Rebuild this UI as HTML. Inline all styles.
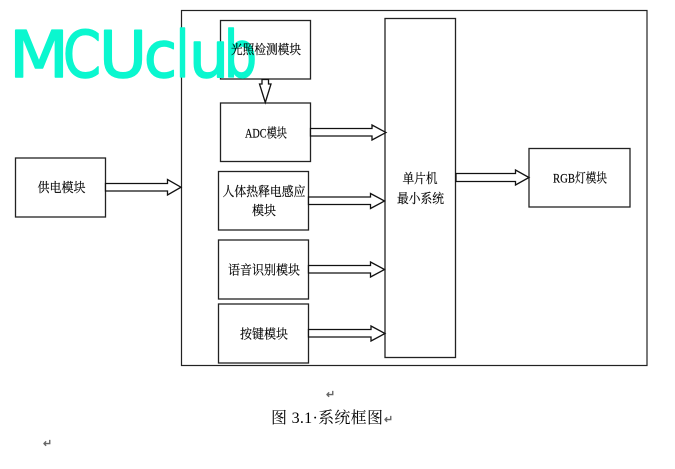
<!DOCTYPE html>
<html lang="zh">
<head>
<meta charset="utf-8">
<title>图 3.1 系统框图</title>
<style>
html,body{margin:0;padding:0;background:#fff;width:675px;height:469px;overflow:hidden}
svg{display:block}
text{font-family:"Liberation Serif","Noto Serif CJK SC",serif;fill:#000}
.b{fill:#fff;stroke:#222;stroke-width:1.3}
.a{fill:#fff;stroke:#111;stroke-width:1.3;stroke-linejoin:miter}
.t{font-size:13px;text-anchor:middle;stroke:#000;stroke-width:.15}
.r{font-size:11px;fill:#666;font-weight:bold}
.w{font-family:"DejaVu Sans",sans-serif;font-size:64px;fill:#0af7cf;stroke:#0af7cf;stroke-width:1.6;stroke-linejoin:round}
</style>
</head>
<body>
<svg width="675" height="469" viewBox="0 0 675 469" xmlns="http://www.w3.org/2000/svg">
<rect x="181.5" y="10.5" width="465.5" height="355" fill="#fff" stroke="#222" stroke-width="1.2"/>
<rect class="b" x="220.5" y="20.5" width="90" height="58.5"/>
<rect class="b" x="220.5" y="103" width="90" height="58.5"/>
<rect class="b" x="218.5" y="171.5" width="90" height="58.5"/>
<rect class="b" x="218.5" y="240" width="90" height="59"/>
<rect class="b" x="218.5" y="304" width="90" height="59"/>
<rect class="b" x="385" y="18.5" width="70.5" height="339"/>
<rect class="b" x="529" y="148.5" width="101" height="58.5"/>
<rect class="b" x="15.5" y="158" width="90" height="59"/>
<polygon class="a" points="105.5,183.5 167.5,183.5 167.5,179.5 181,187.2 167.5,195 167.5,191 105.5,191"/>
<polygon class="a" points="310.5,128.5 372,128.5 372,125 386,132.5 372,140 372,136 310.5,136"/>
<polygon class="a" points="308.5,197 370.5,197 370.5,193.5 384.5,201 370.5,208.5 370.5,204.5 308.5,204.5"/>
<polygon class="a" points="308.5,265.5 370.5,265.5 370.5,262 384.5,269.5 370.5,277 370.5,273 308.5,273"/>
<polygon class="a" points="308.5,329.5 371,329.5 371,326 385,333.5 371,341 371,337 308.5,337"/>
<polygon class="a" points="456,173.5 515.5,173.5 515.5,170 529,177.5 515.5,185 515.5,181.5 456,181.5"/>
<polygon class="a" points="262,79.5 268.5,79.5 268.5,84 271,84 265.3,102.5 259.5,84 262,84"/>
<text class="t" x="266" y="137.5" textLength="42" lengthAdjust="spacingAndGlyphs">ADC模块</text>
<text class="t" x="264" y="196" textLength="83" lengthAdjust="spacingAndGlyphs">人体热释电感应</text>
<text class="t" x="264" y="215" textLength="24" lengthAdjust="spacingAndGlyphs">模块</text>
<text class="t" x="264" y="274.5" textLength="72" lengthAdjust="spacingAndGlyphs">语音识别模块</text>
<text class="t" x="264" y="338.5" textLength="48" lengthAdjust="spacingAndGlyphs">按键模块</text>
<text class="t" x="420" y="183" textLength="35" lengthAdjust="spacingAndGlyphs">单片机</text>
<text class="t" x="420.5" y="203" textLength="47" lengthAdjust="spacingAndGlyphs">最小系统</text>
<text class="t" x="580" y="182.5" textLength="54" lengthAdjust="spacingAndGlyphs">RGB灯模块</text>
<text class="t" x="61.5" y="192" textLength="48" lengthAdjust="spacingAndGlyphs">供电模块</text>
<text class="w" x="9" y="77" textLength="60" lengthAdjust="spacingAndGlyphs">M</text>
<text class="w" x="63" y="77" textLength="38" lengthAdjust="spacingAndGlyphs">C</text>
<text class="w" x="99" y="77" textLength="48" lengthAdjust="spacingAndGlyphs">U</text>
<text class="w" x="144" y="77" textLength="33" lengthAdjust="spacingAndGlyphs">c</text>
<text class="w" x="176" y="77" textLength="13" lengthAdjust="spacingAndGlyphs">l</text>
<text class="w" x="189" y="77" textLength="40" lengthAdjust="spacingAndGlyphs">u</text>
<text class="w" x="224" y="77" textLength="33" lengthAdjust="spacingAndGlyphs">b</text>
<text class="t" x="266" y="54" textLength="70" lengthAdjust="spacingAndGlyphs">光照检测模块</text>
<text x="271" y="423" style="font-size:16px" textLength="112" lengthAdjust="spacing">图 3.1·系统框图</text>
<text class="r" x="326" y="398">↵</text>
<text class="r" x="384" y="423">↵</text>
<text class="r" x="43" y="447">↵</text>
</svg>
</body>
</html>
